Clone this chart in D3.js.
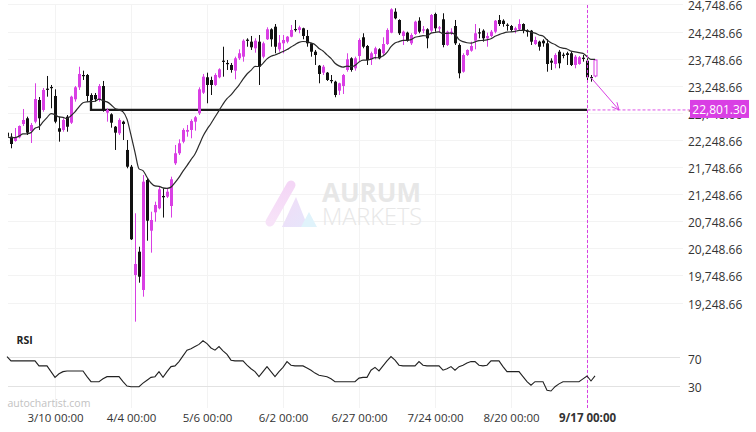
<!DOCTYPE html>
<html><head><meta charset="utf-8">
<script src="https://cdn.jsdelivr.net/npm/d3@7"></script>
<style>body{margin:0;background:#fff}svg{display:block;font-family:"Open Sans",sans-serif}</style>
</head><body><svg id="c" width="756" height="432"></svg>
<script>
// ---- data ----
const dateLabels = ["3/10 00:00","4/4 00:00","5/6 00:00","6/2 00:00","6/27 00:00","7/24 00:00","8/20 00:00","9/17 00:00"];
const dateIndex  = [12,31,50,69,88,107,126,145];
const priceTicks = [19248.66,19748.66,20248.66,20748.66,21248.66,21748.66,22248.66,22748.66,23248.66,23748.66,24248.66,24748.66];
const rsiTicks = [30,70];
const supportLevel = 22801.30;
const supportStart = 21, signalIndex = 145, forecastIndex = 153;

const open = [
22382,22308,22229,22297,22542,22647,22413,22585,22985,22801,
23194,23225,23059,22463,22432,22677,22566,22998,23219,23446,
23446,23077,23077,22985,23243,22751,22721,22492,22371,22585,
22063,21754,19756,20186,19480,21509,20574,20913,20987,21214,
21201,21029,21817,22002,22216,22400,22432,22585,22740,23120,
23404,23354,23262,23404,23710,23668,23631,23526,23754,23784,
24098,24061,23939,24061,23784,24105,24289,24337,23920,24031,
24061,24153,24295,24277,24308,24166,24031,23876,23618,23489,
23489,23354,23323,23157,23243,23539,23754,23570,23797,24142,
23981,23736,23834,23920,23847,24018,24227,24614,24461,24166,
24227,24031,24203,24448,24264,24289,24264,24572,24308,24474,
24000,24227,24350,24000,23507,23815,23895,24079,24234,24264,
24123,24166,24245,24461,24448,24374,24350,24277,24289,24387,
24264,24264,24018,24061,24079,24031,23710,23649,23876,23821,
23847,23847,23631,23649,23765,23710,23409,23428];
const high = [
22395,22371,22468,22516,22819,22677,22561,23293,23040,23206,
23428,23262,23182,22677,22647,22708,23064,23243,23599,23526,
23465,23109,23114,23280,23336,22832,22740,22505,22647,22603,
22247,21786,20895,20278,21601,21540,20924,21109,21385,21356,
21361,21570,22155,22260,22463,22524,22629,22690,23219,23465,
23489,23415,23478,23570,23968,23723,23668,23784,23920,24105,
24123,24166,24123,24184,24061,24326,24308,24387,24184,24184,
24166,24369,24461,24356,24319,24277,24042,23908,23631,23631,
23502,23446,23341,23304,23465,23847,23773,23784,24123,24216,
24000,23876,23968,23939,24142,24308,24677,24677,24474,24264,
24245,24216,24448,24511,24350,24308,24572,24596,24350,24585,
24264,24308,24461,24031,23847,23920,24061,24387,24308,24289,
24227,24277,24461,24553,24474,24400,24369,24337,24474,24400,
24289,24277,24153,24079,24105,24105,23754,23847,23908,23858,
23876,23876,23815,23797,23815,23754,23446,23736];
const low = [
22293,22094,22216,22278,22505,22339,22192,22555,22432,22769,
23046,22832,22555,22216,22400,22400,22542,22954,23170,23354,
22954,22801,22954,22954,22769,22585,22474,22063,22339,22247,
21725,20402,18895,19614,19356,20389,20168,20740,20968,20816,
21177,20816,21786,21970,22186,22308,22278,22419,22708,23096,
22924,23077,23243,23385,23415,23539,23489,23367,23723,23692,
23968,23908,23858,23262,23754,24092,23968,23847,23876,23847,
24031,24142,24245,24216,24105,23968,23784,23631,23293,23446,
23336,23293,23035,23077,23096,23507,23507,23526,23692,23939,
23631,23631,23736,23736,23815,24000,24216,24474,24184,24000,
24061,24000,24184,24216,24216,23939,24227,24245,24227,23957,
23981,24184,24000,23385,23489,23797,23876,23920,24123,24061,
23968,24142,24216,24350,24337,24264,24245,24216,24264,24216,
24153,24000,24000,23895,23968,23507,23539,23570,23570,23754,
23631,23612,23570,23636,23692,23323,23323,23404];
const close = [
22308,22173,22289,22505,22616,22382,22524,23003,22647,23170,
23182,23212,22585,22400,22616,22492,23046,23219,23465,23433,
23059,22985,22998,23243,22801,22801,22566,22382,22616,22542,
21754,20415,19959,19725,21478,20758,20771,21048,21337,21190,
21293,21522,22002,22186,22432,22432,22598,22666,23182,23415,
23262,23262,23446,23551,23699,23655,23539,23754,23847,24079,
24086,23957,24079,23599,24031,24289,24105,23968,24042,24092,
24153,24277,24282,24326,24166,24031,23876,23815,23465,23599,
23354,23336,23077,23293,23446,23736,23539,23754,24092,23968,
23723,23847,23939,23754,24018,24277,24658,24492,24216,24245,
24079,24184,24430,24245,24289,24123,24553,24308,24326,24000,
24245,24245,24031,23478,23815,23908,23981,24216,24221,24123,
24166,24245,24448,24387,24387,24363,24277,24308,24387,24264,
24245,24061,24092,23968,24031,23649,23673,23815,23662,23810,
23815,23631,23784,23773,23754,23404,23397,23723];
const rsi = [
71,65,65,65,65,65,65,65,58,58,
58,50,42,47,50,51,51,51,51,51,
43,36,36,36,40,43,43,43,43,36,
30,29,29,29,34,38,42,43,50,42,
50,57,58,64,72,80,82,85,88,93,
89,83,80,85,79,74,66,65,65,65,
59,54,50,43,50,57,50,43,50,56,
64,59,58,58,58,55,52,48,45,44,
43,40,36,36,36,36,36,36,41,42,
42,52,56,51,58,65,71,66,59,58,
58,58,58,64,59,58,58,58,58,52,
54,57,52,57,59,62,64,64,59,58,
59,65,65,65,57,50,50,50,50,43,
36,31,36,36,36,24,23,29,33,36,
36,36,36,36,40,44,37,44];

// ---- drawing ----
const MAG = "#d93fe4", DARK = "#111";
const svg = d3.select("#c");
const n = close.length;
const x = d3.scaleLinear().domain([0, n - 1]).range([7, 7 + 4 * (n - 1)]);
const y = d3.scaleLinear().domain([19248.66, 24748.66]).range([302.5, 4.4]);
const yr = d3.scaleLinear().domain([30, 70]).range([386, 357.3]);

const defs = svg.append("defs");
defs.append("clipPath").attr("id","plot").append("rect").attr("x",8).attr("y",0).attr("width",680).attr("height",330);
const g1 = defs.append("linearGradient").attr("id","lg1").attr("x1","0").attr("y1","1").attr("x2","0").attr("y2","0");
g1.append("stop").attr("offset","0").attr("stop-color","#f7e3f8");
g1.append("stop").attr("offset","1").attr("stop-color","#f4d6f6");
const g2 = defs.append("linearGradient").attr("id","lg2").attr("x1","0").attr("y1","0").attr("x2","1").attr("y2","1");
g2.append("stop").attr("offset","0").attr("stop-color","#f1dcf7");
g2.append("stop").attr("offset","1").attr("stop-color","#e6e6fb");

// grid
const grid = svg.append("g");
grid.selectAll("line.h").data(priceTicks).join("line")
  .attr("x1",8).attr("x2",683).attr("y1",d=>Math.round(y(d))+0.5).attr("y2",d=>Math.round(y(d))+0.5)
  .attr("stroke","#f3f3f3");
grid.selectAll("line.v").data(dateIndex).join("line")
  .attr("x1",d=>Math.round(x(d))+0.5).attr("x2",d=>Math.round(x(d))+0.5).attr("y1",5).attr("y2",408)
  .attr("stroke","#f3f3f3");
grid.selectAll("line.r").data(rsiTicks).join("line")
  .attr("x1",8).attr("x2",680).attr("y1",d=>Math.round(yr(d))+0.5).attr("y2",d=>Math.round(yr(d))+0.5)
  .attr("stroke","#e2e2e2");

// watermark
const wm = svg.append("g");
wm.append("line").attr("x1",270).attr("y1",222).attr("x2",291).attr("y2",185)
  .attr("stroke","url(#lg1)").attr("stroke-width",9).attr("stroke-linecap","round");
wm.append("path").attr("d","M282,227 L296,197 L308,227 Z").attr("fill","url(#lg2)");
wm.append("path").attr("d","M301,227 L317,227 L309,212 Z").attr("fill","#e0f3fb");
wm.append("text").attr("x",322).attr("y",201.7).attr("font-size",26.5).attr("font-weight",700)
  .attr("fill","#e7e7e7").attr("textLength",99).attr("lengthAdjust","spacingAndGlyphs").text("AURUM");
wm.append("text").attr("x",322).attr("y",225.3).attr("font-size",24.5).attr("font-weight",300)
  .attr("fill","#e7e7e7").attr("textLength",100).attr("lengthAdjust","spacingAndGlyphs").text("MARKETS");

// plot content
const plot = svg.append("g").attr("clip-path","url(#plot)");

// EMA(14) of the closes
const ema = [];
close.forEach((c,i)=>{ ema.push(i===0 ? c : ema[i-1] + (2/15)*(c-ema[i-1])); });

// support line
plot.append("path")
  .attr("d",`M${x(supportStart)},${y(close[supportStart])} V${y(supportLevel)} H${x(signalIndex)}`)
  .attr("fill","none").attr("stroke","#1c1c1c").attr("stroke-width",2.3);

// candles
const idx = d3.range(n);
const c = plot.append("g");
c.selectAll("line.w").data(idx).join("line")
  .attr("x1",i=>Math.round(x(i))+0.5).attr("x2",i=>Math.round(x(i))+0.5)
  .attr("y1",i=>y(high[i])).attr("y2",i=>y(low[i]))
  .attr("stroke",i=>close[i]>=open[i]?MAG:DARK).attr("stroke-width",1);
c.selectAll("rect").data(idx).join("rect")
  .attr("x",i=>Math.round(x(i))-1).attr("width",3)
  .attr("y",i=>Math.min(y(open[i]),y(close[i])))
  .attr("height",i=>Math.max(1.2,Math.abs(y(open[i])-y(close[i]))))
  .attr("fill",i=>i===n-1?"#fff":(close[i]>=open[i]?MAG:DARK))
  .attr("stroke",i=>i===n-1?MAG:"none").attr("stroke-width",1);

// EMA line
plot.append("path").datum(ema)
  .attr("d",d3.line().x((d,i)=>x(i)).y(d=>y(d)).curve(d3.curveMonotoneX))
  .attr("fill","none").attr("stroke","#2b2b2b").attr("stroke-width",1.2);

// signal annotations
const sx = Math.round(x(signalIndex))+0.5, sy = y(supportLevel);
svg.append("line").attr("x1",sx).attr("x2",sx).attr("y1",5).attr("y2",409)
  .attr("stroke",MAG).attr("stroke-dasharray","3,2");
svg.append("line").attr("x1",sx).attr("x2",690).attr("y1",sy).attr("y2",sy)
  .attr("stroke",MAG).attr("stroke-dasharray","3,2").attr("stroke-width",0.9);
const ax0 = x(n-2), ay0 = y(close[n-2]), ax1 = x(forecastIndex), ay1 = sy;
const ang = Math.atan2(ay1-ay0, ax1-ax0);
const hl = 8, ha = 0.45;
svg.append("path")
  .attr("d",`M${ax0},${ay0} L${ax1},${ay1} M${ax1-hl*Math.cos(ang-ha)},${ay1-hl*Math.sin(ang-ha)} L${ax1},${ay1} L${ax1-hl*Math.cos(ang+ha)},${ay1-hl*Math.sin(ang+ha)}`)
  .attr("fill","none").attr("stroke",MAG).attr("stroke-width",1);

// RSI
svg.append("path").datum(rsi)
  .attr("d",d3.line().x((d,i)=>x(i)).y(d=>yr(d)))
  .attr("fill","none").attr("stroke","#222").attr("stroke-width",1.1);
svg.append("text").attr("x",16.5).attr("y",343.5).attr("font-size",10.5).attr("font-weight",700)
  .attr("fill","#222").text("RSI");

// axes
const ya = svg.append("g").attr("transform","translate(688,1.7)")
  .call(d3.axisRight(y).tickValues(priceTicks).tickFormat(d3.format(",.2f")).tickSize(0).tickPadding(0));
ya.select(".domain").remove();
ya.selectAll("text").attr("font-size",12).attr("fill","#333").attr("font-family","Open Sans");

const ra = svg.append("g").attr("transform","translate(688,2)")
  .call(d3.axisRight(yr).tickValues(rsiTicks).tickSize(0).tickPadding(0));
ra.select(".domain").remove();
ra.selectAll("text").attr("font-size",12).attr("fill","#333").attr("font-family","Open Sans");

const xa = svg.append("g").attr("transform","translate(0,414)")
  .call(d3.axisBottom(x).tickValues(dateIndex).tickFormat((d,i)=>dateLabels[i]).tickSize(0).tickPadding(0));
xa.select(".domain").remove();
xa.selectAll("text").attr("font-size",11.5).attr("fill","#333").attr("font-family","Open Sans")
  .attr("font-weight",(d,i)=>i===dateIndex.length-1?700:400);

// price tag
svg.append("rect").attr("x",690).attr("y",sy-10).attr("width",59).attr("height",18).attr("fill",MAG);
svg.append("text").attr("x",719.5).attr("y",sy).attr("dy","0.35em").attr("text-anchor","middle")
  .attr("font-size",12).attr("fill","#fff").text(d3.format(",.2f")(supportLevel));

svg.append("text").attr("x",7.5).attr("y",407).attr("font-size",10.5).attr("fill","#c2c2c2")
  .text("autochartist.com");
</script></body></html>
